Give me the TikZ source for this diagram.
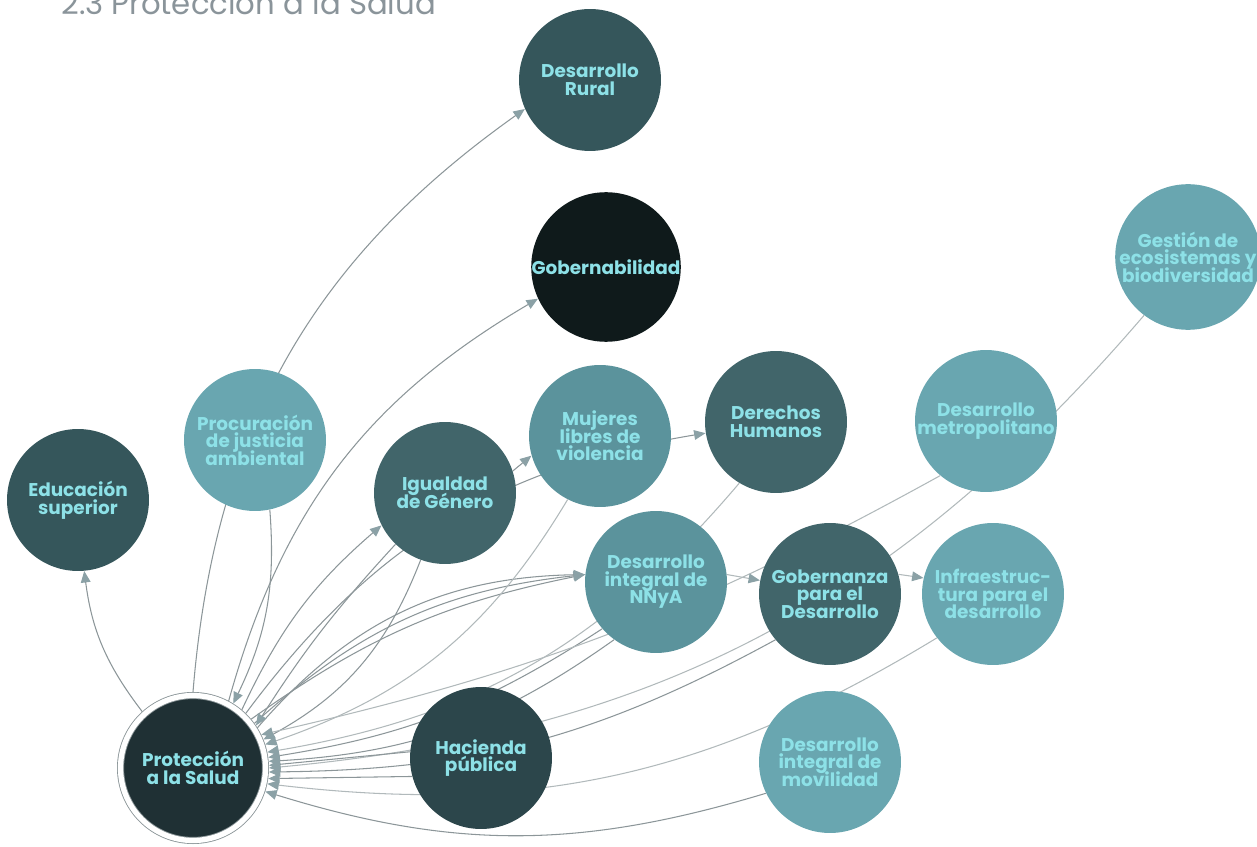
\documentclass[tikz,border=0pt]{standalone}
\usepackage{fontspec}
\setmainfont{Poppins}
\usetikzlibrary{arrows.meta, backgrounds}
\definecolor{colorTitle}{HTML}{8A949A}
\definecolor{colorText}{HTML}{8DE1E7}
\definecolor{colorLink}{HTML}{8C9699}
\definecolor{colorFaint}{HTML}{B1B9BB}
\definecolor{colorTip}{HTML}{8BA1A6}
\definecolor{colorSalud}{HTML}{1F3034}
\definecolor{colorNight}{HTML}{0F1A1B}
\definecolor{colorDeep}{HTML}{2C464B}
\definecolor{colorDark}{HTML}{35565B}
\definecolor{colorMid}{HTML}{41656A}
\definecolor{colorSea}{HTML}{5B939C}
\definecolor{colorLight}{HTML}{69A6B0}
\newcommand{\topicfont}{\bfseries\fontsize{10.5}{10}\selectfont\setlength{\lineskiplimit}{-50pt}}
\tikzset{
  topic/.style={circle, minimum size=2.84cm, inner sep=0pt, align=center,
    text=colorText, font=\topicfont},
  link/.style={colorLink, line width=0.6pt},
  faint/.style={colorFaint, line width=0.6pt},
}

\begin{document}
\begin{tikzpicture}[x=0.02cm, y=0.02cm, >={Triangle[length=6.5pt, width=5.5pt, color=colorTip]}]
\clip (0,0) rectangle (1257,846);
\node[anchor=base west, inner sep=0pt, text=colorTitle, font=\fontsize{17.5}{17.5}\selectfont] (titulo) at (61,831) {2.3 Protección a la Salud};
% ejes
\node[topic, fill=colorDark] (rural) at (590,766) {Desarrollo\\Rural};
\node[topic, fill=colorNight] (gobernabilidad) at (606,579) {Gobernabilidad};
\node[topic, fill=colorLight] (gestion) at (1188,589) {Gestión de\\ecosistemas y\\biodiversidad};
\node[topic, fill=colorLight] (procuracion) at (255,406) {Procuración\\de justicia\\ambiental};
\node[topic, fill=colorDark] (educacion) at (78,346) {Educación\\superior};
\node[topic, fill=colorMid] (igualdad) at (445,353) {Igualdad\\de Género};
\node[topic, fill=colorSea] (mujeres) at (600,410) {Mujeres\\libres de\\violencia};
\node[topic, fill=colorMid] (derechos) at (776,424) {Derechos\\Humanos};
\node[topic, fill=colorLight] (metropolitano) at (986,425) {Desarrollo\\metropolitano};
\node[topic, fill=colorSea] (nnya) at (656,264) {Desarrollo\\integral de\\NNyA};
\node[topic, fill=colorMid] (gobernanza) at (830,252) {Gobernanza\\para el\\Desarrollo};
\node[topic, fill=colorLight] (infraestructura) at (993,252) {Infraestruc-\\tura para el\\desarrollo};
\node[topic, fill=colorSalud, minimum size=2.9cm, draw=colorLink, double=white, double distance=3pt, line width=0.5pt, outer sep=2pt] (salud) at (193,78) {Protección\\a la Salud};
\node[topic, fill=colorDeep] (hacienda) at (481,88) {Hacienda\\pública};
\node[topic, fill=colorLight] (movilidad) at (830,84) {Desarrollo\\integral de\\movilidad};
\begin{scope}[on background layer]
% salidas
\draw [->, link] (salud.132) to [bend left=15] (educacion.-85);
\draw [->, link] (salud.90) to [bend left=25] (rural.204);
\draw [->, link] (salud.62) to [bend left=22] (gobernabilidad.205);
\draw [->, link] (salud.50) to [bend left=12] (igualdad.207);
\draw [->, link] (salud.46) to [bend left=22] (derechos.189);
\draw [->, link] (salud.40) to [bend left=12] (nnya.174);
\draw [->, link] (salud.36) to [bend left=18] (nnya.174);
\draw [->, link] (salud.32) to [bend left=24] (nnya.174);
% entradas
\draw [->, link] (procuracion.-78) to [bend left=15] (salud.58);
\draw [->, link] (igualdad.226) to [bend right=5] (salud.34);
\draw [->, link] (igualdad.250) to [bend left=20] (salud.22);
\draw [->, faint] (mujeres.243) to [bend left=20] (salud.18);
\draw [->, faint] (derechos.239) to [bend left=20] (salud.12);
\draw [->, link] (nnya.221) to [bend left=12] (salud.8);
\draw [->, link] (nnya.234) to [bend left=16] (salud.5);
\draw [->, faint] (metropolitano.230) to [bend left=8] (salud.26);
\draw [->, faint] (gestion.233) to [bend left=22] (salud.0);
\draw [->, link] (gobernanza.220) to [bend left=14] (salud.-3);
\draw [->, link] (hacienda.175) to (salud.2);
\draw [->, link] (hacienda.195) to (salud.-8);
\draw [->, faint] (infraestructura.218) to [bend left=19] (salud.-12);
\draw [->, link] (movilidad.206) to [bend left=17] (salud.-18);
% cadena
\draw [->, link] (igualdad.18) to (mujeres.196);
\draw [->, faint] (nnya.6) to (gobernanza.169);
\draw [->, faint] (gobernanza.16) to (infraestructura.167);
\end{scope}
\end{tikzpicture}
\end{document}
